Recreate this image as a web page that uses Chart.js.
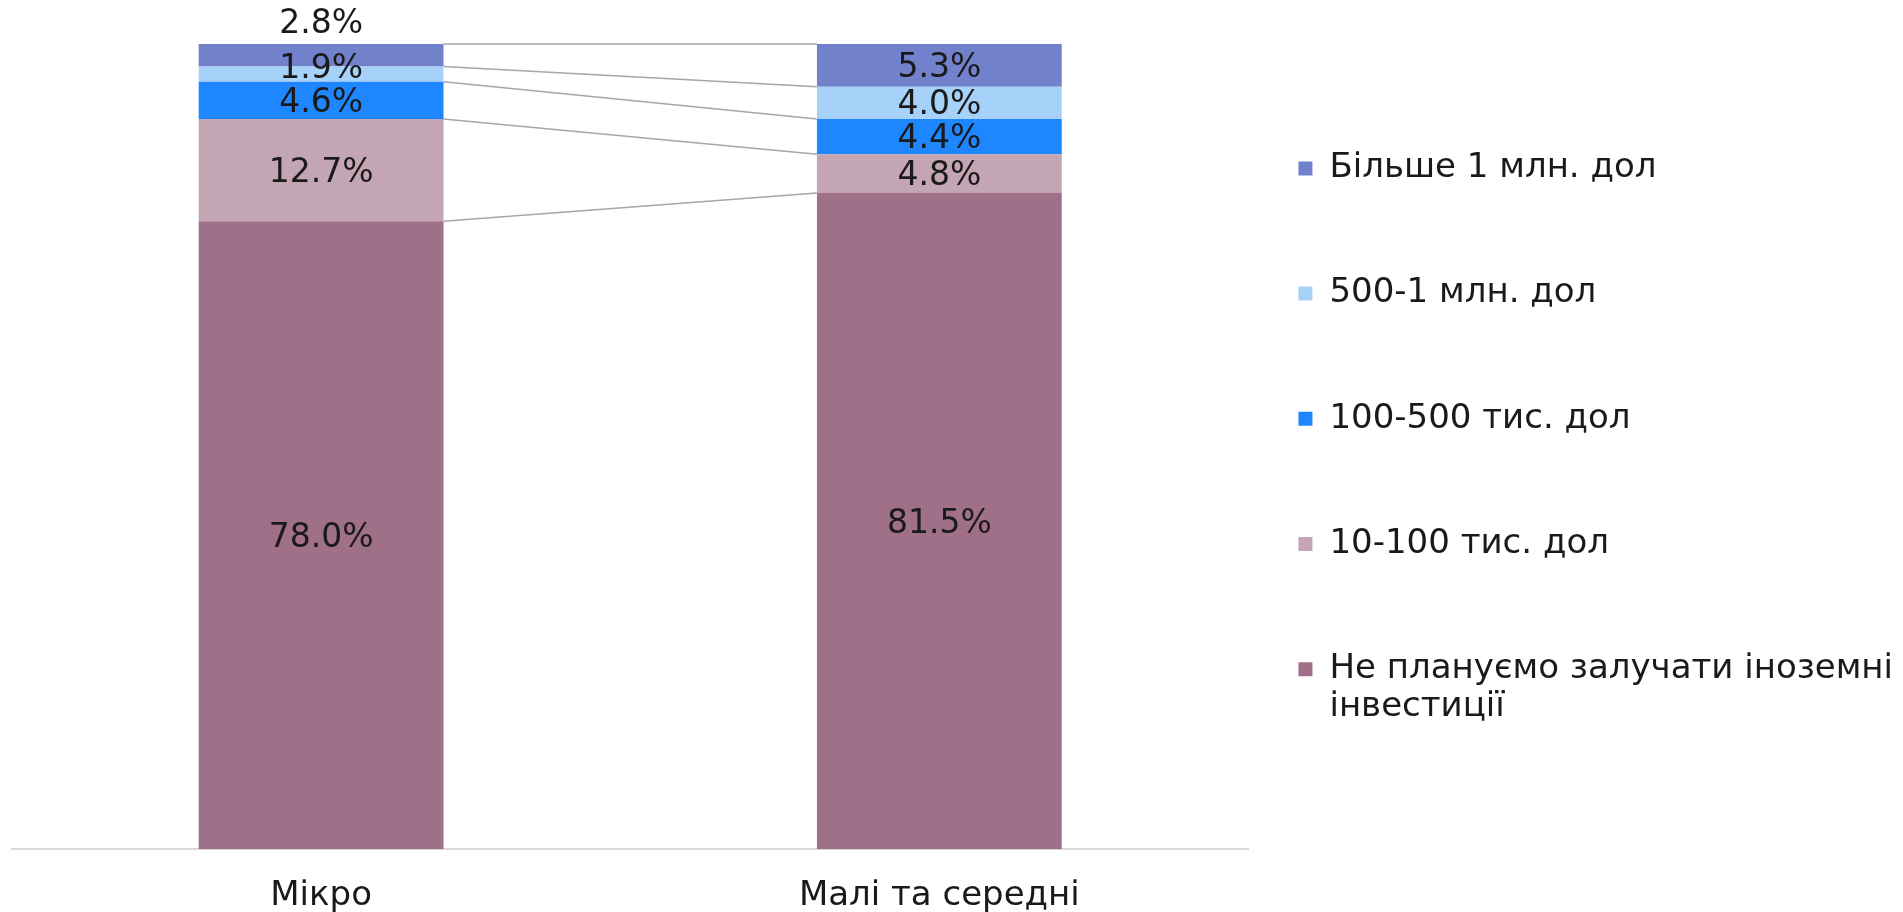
<!DOCTYPE html>
<html lang="uk">
<head>
<meta charset="utf-8">
<title>Залучення іноземних інвестицій</title>
<script src="https://cdn.jsdelivr.net/npm/chart.js@4.4.1/dist/chart.umd.min.js"></script>
<style>
    html, body { margin: 0; padding: 0; background: #fff; }
    #wrap { position: relative; width: 1903px; height: 912px; }
</style>
</head>
<body>
<div id="wrap"><canvas id="investChart"></canvas></div>
<script>
// categories and series, bottom of the stack first
const categories = ['Мікро', 'Малі та середні'];
const seriesNames = [
    'Не плануємо залучати іноземні інвестиції',
    '10-100 тис. дол',
    '100-500 тис. дол',
    '500-1 млн. дол',
    'Більше 1 млн. дол'
];
const seriesColors = ['#A07088', '#C4A5B3', '#1E87FF', '#A6D1F8', '#7281CC'];

const noPlans = [78.0, 81.5];
const from10to100 = [12.7, 4.8];
const from100to500 = [4.6, 4.4];
const from500to1m = [1.9, 4.0];
const over1m = [2.8, 5.3];
const seriesValues = [noPlans, from10to100, from100to500, from500to1m, over1m];

const fontFamily = '"DejaVu Sans", sans-serif';
const textColor = '#1a1a1a';

// split a long legend name in lines, every item gets two lines so the gaps stay equal
function legendLines(name) {
    const words = name.split(' ');
    let lines = [''];
    words.forEach(w => {
        const cur = lines[lines.length - 1];
        if (cur.length && (cur + ' ' + w).length > 30) {
            lines.push(w);
        } else {
            lines[lines.length - 1] = cur.length ? cur + ' ' + w : w;
        }
    });
    while (lines.length < 2) lines.push('');
    return lines;
}

// grey lines joining the same boundaries of both bars
const seriesLines = {
    id: 'seriesLines',
    beforeDatasetsDraw(chart) {
        const c = chart.ctx;
        c.save();
        c.strokeStyle = '#a6a6a6';
        c.lineWidth = 1.5;
        chart.data.datasets.forEach((ds, i) => {
            const bars = chart.getDatasetMeta(i).data;
            for (let j = 0; j < bars.length - 1; j++) {
                const a = bars[j];
                const b = bars[j + 1];
                c.beginPath();
                c.moveTo(a.x + a.width / 2, a.y);
                c.lineTo(b.x - b.width / 2, b.y);
                c.stroke();
            }
        });
        c.restore();
    }
};

// value labels in the middle of every piece
const barLabels = {
    id: 'barLabels',
    afterDatasetsDraw(chart) {
        const c = chart.ctx;
        const last = chart.data.datasets.length - 1;
        const minGap = 34;
        c.save();
        c.font = '33px ' + fontFamily;
        c.fillStyle = textColor;
        c.textAlign = 'center';
        c.textBaseline = 'middle';
        chart.data.labels.forEach((_, j) => {
            let prevY = null;
            chart.data.datasets.forEach((ds, i) => {
                const bar = chart.getDatasetMeta(i).data[j];
                let y = (bar.y + bar.base) / 2 + 3;
                if (i === last && Math.abs(bar.base - bar.y) < 30) {
                    // piece too thin on top of the bar: label goes above it
                    y = bar.y - 20;
                } else if (prevY !== null && prevY - y < minGap) {
                    // keep it off the label below
                    y = prevY - minGap;
                }
                c.fillText(ds.data[j].toFixed(1) + '%', bar.x, y);
                prevY = y;
            });
        });
        c.restore();
    }
};

const ctx = document.getElementById('investChart').getContext('2d');
const investChart = new Chart(ctx, {
    type: 'bar',
    data: {
        labels: categories,
        datasets: seriesNames.map((name, i) => ({
            label: name,
            data: seriesValues[i],
            backgroundColor: seriesColors[i],
            borderWidth: 0,
            barPercentage: 0.396,
            categoryPercentage: 1
        }))
    },
    options: {
        responsive: true,
        maintainAspectRatio: false,
        animation: false,
        layout: {
            padding: { top: 44, left: 12, right: 0, bottom: -32 }
        },
        plugins: {
            tooltip: { enabled: false },
            legend: {
                position: 'right',
                align: 'start',
                reverse: true,
                title: {
                    display: true,
                    text: '',
                    padding: { top: 0, bottom: 43 }
                },
                labels: {
                    boxWidth: 14,
                    boxHeight: 14,
                    padding: 50,
                    color: textColor,
                    font: { family: fontFamily, size: 34, lineHeight: 1.106 },
                    generateLabels: function (chart) {
                        const items = Chart.defaults.plugins.legend.labels.generateLabels(chart);
                        items.forEach(item => {
                            item.text = legendLines(item.text);
                            item.lineWidth = 0;
                        });
                        return items;
                    }
                }
            }
        },
        scales: {
            x: {
                stacked: true,
                grid: { display: false, drawTicks: false },
                border: { display: true, color: '#d9d9d9', width: 2 },
                ticks: {
                    color: textColor,
                    padding: 27,
                    font: { family: fontFamily, size: 34 }
                }
            },
            y: {
                stacked: true,
                display: false,
                min: 0,
                max: 100
            }
        }
    },
    plugins: [seriesLines, barLabels]
});
</script>
</body>
</html>
